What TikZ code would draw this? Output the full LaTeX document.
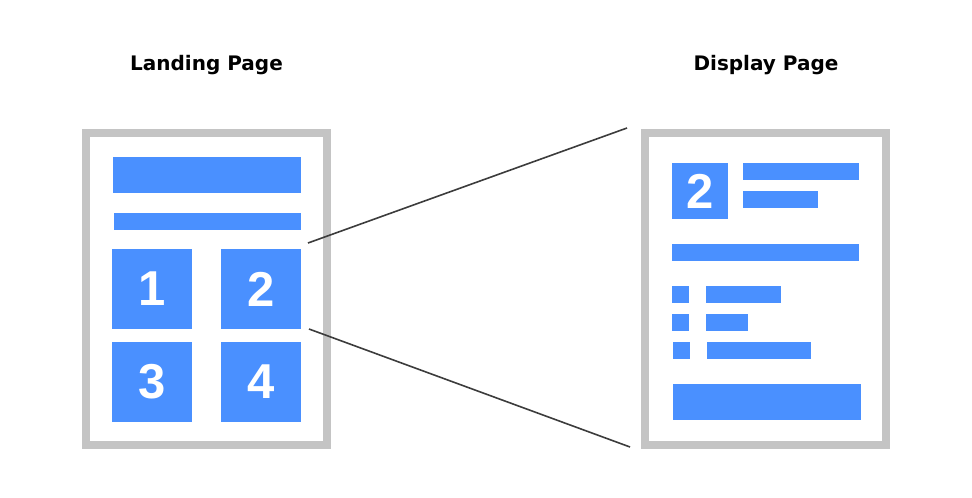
\documentclass[tikz,border=0pt]{standalone}
\usepackage{fontspec}
\setmainfont{DejaVu Sans}
\newfontfamily\numfont{Liberation Sans}
\usepackage{tikz}
\definecolor{pageblue}{HTML}{4A90FF}
\definecolor{pagegray}{HTML}{C4C4C4}
\definecolor{linkgray}{HTML}{3C3C3C}
\tikzset{
    every node/.style={rectangle, inner sep=0pt, outer sep=0pt},
    page/.style={draw=pagegray, line width=8pt, fill=white, minimum width=241pt, minimum height=312pt},
    block/.style={fill=pageblue, text=white, font=\numfont\bfseries\fontsize{49}{49}\selectfont},
    title/.style={font=\bfseries\fontsize{20}{20}\selectfont, anchor=base}
}

\begin{document}
\begin{tikzpicture}[x=1pt, y=-1pt]
    \useasboundingbox (0,0) rectangle (972,498);

    \node (ltitle) [title] at (206.5, 70) {Landing Page};
    \node (rtitle) [title] at (766, 70) {Display Page};

    \node (lpage) [page] at (206.5, 289) {};
    \node (rpage) [page] at (765.5, 289) {};

    % landing page
    \node (lhead) [block, minimum width=188pt, minimum height=36pt] at (207, 175) {};
    \node (lsub) [block, minimum width=187pt, minimum height=17pt] at (207.5, 221.5) {};
    \node (b1) [block, minimum size=80pt] at (152, 289) {1};
    \node (b2) [block, minimum size=80pt] at (261, 289) {2};
    \node (b3) [block, minimum size=80pt] at (152, 382) {3};
    \node (b4) [block, minimum size=80pt] at (261, 382) {4};

    % display page
    \node (dnum) [block, minimum size=56pt] at (700, 191) {2};
    \node (dl1) [block, minimum width=116pt, minimum height=17pt] at (801, 171.5) {};
    \node (dl2) [block, minimum width=75pt, minimum height=17pt] at (780.5, 199.5) {};
    \node (dlong) [block, minimum width=187pt, minimum height=17pt] at (765.5, 252.5) {};
    \node (s1) [block, minimum size=17pt] at (680.5, 294.5) {};
    \node (s2) [block, minimum size=17pt] at (680.5, 322.5) {};
    \node (s3) [block, minimum size=17pt] at (681.5, 350.5) {};
    \node (t1) [block, minimum width=75pt, minimum height=17pt] at (743.5, 294.5) {};
    \node (t2) [block, minimum width=42pt, minimum height=17pt] at (727, 322.5) {};
    \node (t3) [block, minimum width=104pt, minimum height=17pt] at (759, 350.5) {};
    \node (dfoot) [block, minimum width=188pt, minimum height=36pt] at (767, 402) {};

    \coordinate (z1) at (308, 243);
    \coordinate (z2) at (309, 329);
    \coordinate (w1) at (627, 128);
    \coordinate (w2) at (630, 447);

    \draw[linkgray, line width=1.6pt] (z1) -- (w1);
    \draw[linkgray, line width=1.6pt] (z2) -- (w2);
\end{tikzpicture}
\end{document}
